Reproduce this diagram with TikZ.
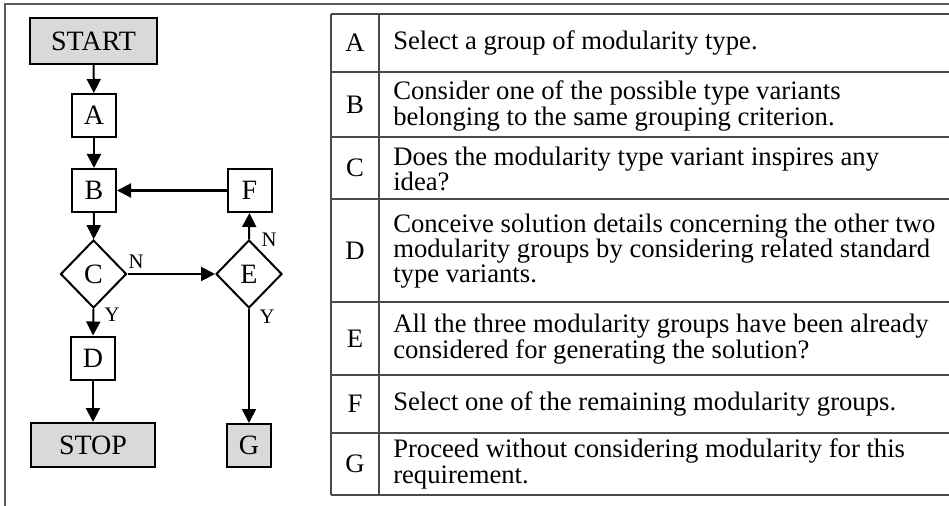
\documentclass[tikz,border=0pt]{standalone}
\usepackage{fontspec}
\setmainfont{Liberation Serif}
\usetikzlibrary{arrows.meta,shapes.geometric}
\definecolor{termgray}{HTML}{D9D9D9}
\definecolor{framegray}{HTML}{5A5A5A}
\definecolor{rulegray}{HTML}{4A4A4A}
\begin{document}
\begin{tikzpicture}[x=0.75pt,y=-0.75pt,
  txt/.style={font=\fontsize{20pt}{19pt}\selectfont},
  flow/.style={line width=1.5pt,-{Triangle[length=10.5pt,width=10.5pt]}},
  box/.style={font=\fontsize{21pt}{21pt}\selectfont,draw,line width=1.5pt,inner sep=0pt},
  stepbox/.style={box,minimum width=33pt,minimum height=32.25pt},
  termbox/.style={box,fill=termgray},
  decision/.style={box,diamond,aspect=1,minimum width=49.5pt,minimum height=51pt},
  yn/.style={font=\fontsize{15.5pt}{15.5pt}\selectfont,inner sep=0pt},
  rule/.style={rulegray,line width=1pt},
  cell/.style={txt,align=left,anchor=west,inner sep=0pt},
  key/.style={txt,inner sep=0pt}
]
\useasboundingbox (0,0) rectangle (949,506);

% outer frame (only top and left edges fall on the page)
\draw[framegray,line width=1.5pt] (5,506) -- (5,4) -- (949,4);

% ---------------- flowchart ----------------
\node[termbox,minimum width=95.25pt,minimum height=34.5pt] (start) at (93.5,41) {START};
\node[stepbox] (a) at (94,115.5) {A};
\node[stepbox] (b) at (94,190.5) {B};
\node[stepbox] (f) at (249.5,190.5) {F};
\node[decision] (c) at (93.5,274) {C};
\node[decision] (e) at (249,274) {E};
\node[stepbox] (d) at (93,358) {D};
\node[termbox,minimum width=93pt,minimum height=33pt] (stop) at (93,445) {STOP};
\node[stepbox,fill=termgray] (g) at (249,445.5) {G};

\draw[flow] (start) -- (a);
\draw[flow] (a) -- (b);
\draw[flow] (b) -- (c);
\draw[flow] (c.east) -- (e.west);
\draw[flow] (e.north) -- (f.south);
\draw[flow] (f.west) -- (b.east);
\draw[flow] (c.south) -- (d.north);
\draw[flow] (d) -- (stop);
\draw[flow] (e.south) -- (g.north);

\node[yn] (cn) at (136,262) {N};
\node[yn] (cy) at (112,315) {Y};
\node[yn] (en) at (269,240) {N};
\node[yn] (ey) at (267,317) {Y};

% ---------------- legend table ----------------
\foreach \yy in {14,72,137,199,302,375,433,495}
  \draw[rule] (331,\yy) -- (949,\yy);
\draw[rule] (331,14) -- (331,495);
\draw[rule] (379,14) -- (379,495);

\node[key] (ka) at (355,43) {A};
\node[key] (kb) at (355,105) {B};
\node[key] (kc) at (355,168) {C};
\node[key] (kd) at (355,251) {D};
\node[key] (ke) at (355,339) {E};
\node[key] (kf) at (355,404) {F};
\node[key] (kg) at (355,464) {G};

\node[cell] (ta) at (393,43) {Select a group of modularity type.};
\node[cell] (tb) at (393,106) {Consider one of the possible type variants\\belonging to the same grouping criterion.};
\node[cell] (tc) at (393,169) {Does the modularity type variant inspires any\\idea?};
\node[cell] (td) at (393,251) {Conceive solution details concerning the other two\\modularity groups by considering related standard\\type variants.};
\node[cell] (te) at (393,339) {All the three modularity groups have been already\\considered for generating the solution?};
\node[cell] (tf) at (393,404) {Select one of the remaining modularity groups.};
\node[cell] (tg) at (393,464) {Proceed without considering modularity for this\\requirement.};
\end{tikzpicture}
\end{document}
